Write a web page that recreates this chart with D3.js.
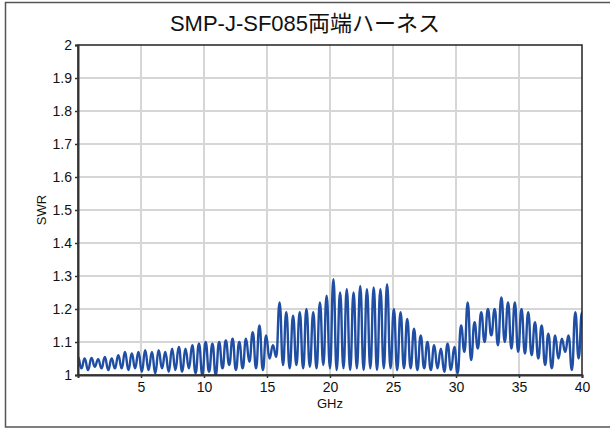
<!DOCTYPE html>
<html>
<head>
<meta charset="utf-8">
<script src="https://cdn.jsdelivr.net/npm/d3@7"></script>
<style>
  body { margin: 0; background: #fff; }
  svg { display: block; font-family: "Liberation Sans", Arial, "Noto Sans CJK JP", sans-serif; }
</style>
</head>
<body>
<svg id="chart"></svg>
<script>
// Chart text and ticks
const title = "SMP-J-SF085両端ハーネス";
const xLabel = "GHz";
const yLabel = "SWR";
const xTicks = [5, 10, 15, 20, 25, 30, 35, 40];
const yTicks = [1, 1.1, 1.2, 1.3, 1.4, 1.5, 1.6, 1.7, 1.8, 1.9, 2];

const freq = [
  0.00, 0.27, 0.53, 0.80, 1.07, 1.33, 1.60, 1.87, 2.13, 2.40,
  2.67, 2.93, 3.20, 3.47, 3.73, 4.00, 4.27, 4.53, 4.80, 5.07,
  5.33, 5.60, 5.87, 6.13, 6.40, 6.67, 6.93, 7.20, 7.47, 7.73,
  8.00, 8.27, 8.53, 8.80, 9.07, 9.33, 9.60, 9.87, 10.13, 10.40,
  10.67, 10.93, 11.20, 11.47, 11.73, 12.00, 12.27, 12.53, 12.80, 13.07,
  13.33, 13.60, 13.87, 14.13, 14.40, 14.67, 14.93, 15.20, 15.47, 15.73,
  16.00, 16.27, 16.53, 16.80, 17.07, 17.33, 17.60, 17.87, 18.13, 18.40,
  18.67, 18.93, 19.20, 19.47, 19.73, 20.00, 20.27, 20.53, 20.80, 21.07,
  21.33, 21.60, 21.87, 22.13, 22.40, 22.67, 22.93, 23.20, 23.47, 23.73,
  24.00, 24.27, 24.53, 24.80, 25.07, 25.33, 25.60, 25.87, 26.13, 26.40,
  26.67, 26.93, 27.20, 27.47, 27.73, 28.00, 28.27, 28.53, 28.80, 29.07,
  29.33, 29.60, 29.87, 30.13, 30.40, 30.67, 30.93, 31.20, 31.47, 31.73,
  32.00, 32.27, 32.53, 32.80, 33.07, 33.33, 33.60, 33.87, 34.13, 34.40,
  34.67, 34.93, 35.20, 35.47, 35.73, 36.00, 36.27, 36.53, 36.80, 37.07,
  37.33, 37.60, 37.87, 38.13, 38.40, 38.67, 38.93, 39.20, 39.47, 39.73,
  40.00
];
const swr = [
  1.055, 1.020, 1.050, 1.015, 1.052, 1.025, 1.048, 1.020, 1.055, 1.015,
  1.050, 1.020, 1.060, 1.020, 1.070, 1.015, 1.065, 1.020, 1.070, 1.010,
  1.075, 1.015, 1.070, 1.005, 1.075, 1.020, 1.070, 1.010, 1.080, 1.015,
  1.085, 1.010, 1.080, 1.020, 1.090, 1.005, 1.095, 1.000, 1.100, 1.010,
  1.095, 1.000, 1.100, 1.020, 1.105, 1.030, 1.110, 1.015, 1.100, 1.020,
  1.110, 1.040, 1.130, 1.020, 1.150, 1.015, 1.120, 1.050, 1.090, 1.055,
  1.220, 1.030, 1.190, 1.020, 1.180, 1.030, 1.190, 1.020, 1.200, 1.025,
  1.190, 1.020, 1.220, 1.030, 1.240, 1.020, 1.290, 1.015, 1.250, 1.020,
  1.260, 1.015, 1.250, 1.020, 1.270, 1.015, 1.260, 1.020, 1.265, 1.015,
  1.260, 1.020, 1.275, 1.020, 1.200, 1.015, 1.190, 1.020, 1.170, 1.020,
  1.140, 1.015, 1.120, 1.020, 1.100, 1.015, 1.090, 1.020, 1.080, 1.010,
  1.095, 1.015, 1.085, 1.005, 1.150, 1.070, 1.220, 1.045, 1.160, 1.080,
  1.190, 1.100, 1.200, 1.120, 1.200, 1.090, 1.235, 1.100, 1.220, 1.080,
  1.220, 1.070, 1.200, 1.065, 1.190, 1.060, 1.160, 1.050, 1.150, 1.030,
  1.125, 1.020, 1.120, 1.050, 1.110, 1.070, 1.120, 1.015, 1.190, 1.050,
  1.190
];

const width = 610;
const height = 428;
const margin = { left: 78, right: 28, top: 45, bottom: 53 };

const svg = d3.select("#chart")
  .attr("width", width)
  .attr("height", height);

// outer frame
svg.append("rect")
  .attr("x", 5.5).attr("y", 2.5)
  .attr("width", 606).attr("height", 424.5)
  .attr("fill", "none")
  .attr("stroke", "#555")
  .attr("stroke-width", 1.5);

const x = d3.scaleLinear().domain([0, 40]).range([margin.left, width - margin.right]);
const y = d3.scaleLinear().domain([1, 2]).range([height - margin.bottom, margin.top]);

// grid
svg.append("g")
  .selectAll("line")
  .data(xTicks.slice(0, -1))
  .join("line")
  .attr("x1", d => x(d)).attr("x2", d => x(d))
  .attr("y1", y(1)).attr("y2", y(2))
  .attr("stroke", "#d6d6d6")
  .attr("stroke-width", 2);

svg.append("g")
  .selectAll("line")
  .data(yTicks.slice(1, -1))
  .join("line")
  .attr("x1", x(0)).attr("x2", x(40))
  .attr("y1", d => y(d)).attr("y2", d => y(d))
  .attr("stroke", "#d6d6d6")
  .attr("stroke-width", 2);

// data line
svg.append("clipPath").attr("id", "clip")
  .append("rect")
  .attr("x", x(0)).attr("y", y(2))
  .attr("width", x(40) - x(0)).attr("height", y(1) - y(2));

const points = freq.map((f, i) => [f, swr[i]]);
svg.append("path")
  .datum(points)
  .attr("clip-path", "url(#clip)")
  .attr("fill", "none")
  .attr("stroke", "#1f4ea3")
  .attr("stroke-width", 2.4)
  .attr("d", d3.line().curve(d3.curveBumpX).x(d => x(d[0])).y(d => y(d[1])));

// plot frame
svg.append("rect")
  .attr("x", x(0)).attr("y", y(2))
  .attr("width", x(40) - x(0)).attr("height", y(1) - y(2))
  .attr("fill", "none")
  .attr("stroke", "#222")
  .attr("stroke-width", 1.5);

// axes
const xAxis = svg.append("g")
  .attr("transform", `translate(0,${y(1)})`)
  .call(d3.axisBottom(x).tickValues(xTicks).tickSize(3).tickPadding(4).tickFormat(d3.format("d")));
const yAxis = svg.append("g")
  .attr("transform", `translate(${x(0)},0)`)
  .call(d3.axisLeft(y).tickValues(yTicks).tickSize(3).tickPadding(3).tickFormat(d => String(+d.toFixed(1))));

[xAxis, yAxis].forEach(a => {
  a.select(".domain").attr("stroke", "#333").attr("stroke-width", 2);
  a.selectAll(".tick line").attr("stroke", "#333").attr("stroke-width", 1.5);
  a.selectAll("text")
    .attr("fill", "#111")
    .style("font-size", "14px")
    .style("font-family", "'Liberation Sans', Arial, sans-serif");
});

// labels
svg.append("text")
  .attr("x", 305).attr("y", 31)
  .attr("text-anchor", "middle")
  .attr("fill", "#111")
  .style("font-size", "22px")
  .text(title);

svg.append("text")
  .attr("x", x(20)).attr("y", 408)
  .attr("text-anchor", "middle")
  .attr("fill", "#111")
  .style("font-size", "13px")
  .text(xLabel);

svg.append("text")
  .attr("transform", `translate(46,${y(1.5)}) rotate(-90)`)
  .attr("text-anchor", "middle")
  .attr("fill", "#111")
  .style("font-size", "13px")
  .text(yLabel);
</script>
</body>
</html>
